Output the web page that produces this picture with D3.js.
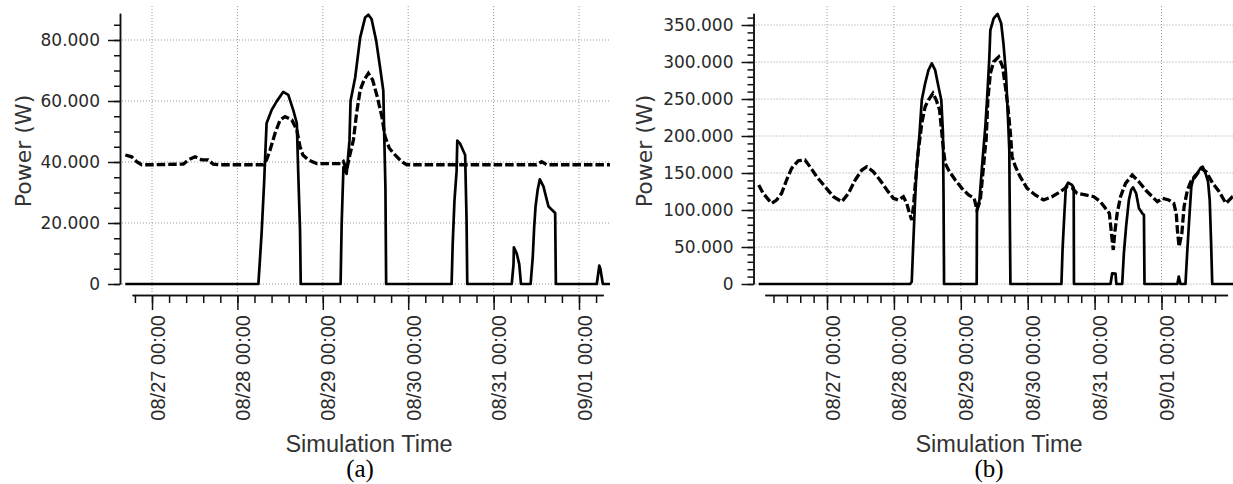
<!DOCTYPE html>
<html>
<head>
<meta charset="utf-8">
<script src="https://cdn.jsdelivr.net/npm/d3@7"></script>
<style>
  body { margin: 0; background: #fff; }
  svg { display: block; background: #fff; }
  .grid { stroke: #999; stroke-width: 1; stroke-dasharray: 1,2; }
  .axis { color: #111; }
  .axis path, .axis line { stroke-width: 1.5; }
  .yaxis text { font-family: "DejaVu Sans", sans-serif; font-size: 17px; fill: #2a2a2a; }
  .xaxis text { font-family: "Liberation Sans", Arial, sans-serif; font-size: 20px; fill: #2a2a2a; }
  .ylabel { font-family: "DejaVu Sans", sans-serif; font-size: 22px; fill: #333; }
  .xlabel { font-family: "Liberation Sans", Arial, sans-serif; font-size: 23.5px; fill: #333; }
  .caption { font-family: "Liberation Serif", "Times New Roman", serif; font-size: 25px; fill: #000; }
</style>
</head>
<body>
<svg id="chart" width="1233" height="484"></svg>
<script>
// times are hours after 08/27 00:00, values in W

// (a) solid
const aSolidT = [-7.5, 29.9, 30.8, 31.5, 32.2, 33.6, 35.0, 36.9, 38.3, 39.7, 40.7, 41.1, 41.6, 41.8,
  53.0, 53.3, 53.8, 54.7, 55.5, 55.8, 57.1, 58.5, 59.9, 60.8, 61.7, 63.0, 64.1, 65.0, 65.3, 65.6, 65.8,
  84.2, 84.5, 85.0, 85.6, 85.8, 86.6, 88.0, 88.4, 88.6,
  101.1, 101.6, 101.7, 102.5, 103.2, 103.7,
  106.4, 107.0, 107.4, 107.8, 108.4, 109.0, 110.0, 111.4, 112.3, 113.3, 113.5,
  125.0, 125.7, 126.0, 126.7, 128.7];
const aSolidV = [0, 0, 16.6, 33, 52.7, 57, 59.8, 63, 62, 57, 52.7, 36.3, 17.7, 0,
  0, 19.7, 38.3, 36.1, 47, 60, 67.7, 80.8, 87.4, 88.3, 86.9, 79.8, 71, 63.4, 47, 31.7, 0,
  0, 13, 27.3, 37, 47, 46, 42.3, 21, 0,
  0, 6.5, 12, 10, 6.5, 0,
  0, 8.7, 18.6, 25.5, 31, 34.3, 32, 25.5, 24.4, 23.3, 0,
  0, 6, 5, 0, 0];

// (a) dashed
const aDashT = [-7.5, -5.7, -4.3, -2.9, 0.4, 8.8, 10.2, 12.1, 14, 15.8, 17.2, 19.1, 31.3, 32.2, 33.2,
  34.6, 36, 37.4, 39.3, 40.7, 41.6, 42.4, 43.9, 46.3, 53.3, 53.8, 54.7, 55.6, 56.6, 57.5, 58.5, 59.6,
  60.8, 62, 63.3, 64.6, 65.5, 66.7, 68.3, 70.2, 71.6, 108.1, 109.5, 110.9, 128.7];
const aDashV = [42.3, 41.7, 40.1, 39.1, 39.1, 39.3, 40.7, 41.7, 40.7, 40.7, 39.3, 39.1, 39.1, 40.7, 44,
  49.5, 53.8, 54.9, 53.8, 50.5, 45, 42.3, 40.7, 39.5, 39.5, 40.1, 37.4, 42.3, 47.2, 56, 63.6, 66.9,
  69.1, 66.9, 61.4, 54.9, 48.3, 44.5, 42.3, 40.1, 39.1, 39.1, 40.1, 39.1, 39.1];

// (b) solid
const bSolidT = [-24.5, 29.8, 30.4, 31.0, 31.6, 32.2, 33.2, 34.0, 35.2, 36.4, 37.6, 38.8, 40.0, 41.0, 41.6, 41.8, 42.0,
  53.7, 53.8, 54.7, 55.8, 56.8, 57.4, 58.2, 58.6, 59.8, 61.2, 62.5, 63.3, 64.2, 64.9, 65.4, 65.5, 65.8,
  84.1, 84.5, 85.1, 85.7, 86.5, 87.9, 88.5, 88.6,
  101.7, 102.3, 103.5, 103.8,
  105.9, 106.5, 107.3, 108.3, 109.1, 109.8, 110.9, 111.9, 113.1, 113.7, 113.9,
  125.7, 126.2, 126.8,
  128.6, 129.2, 130.0, 130.7, 131.6, 132.8, 134.0, 134.8, 135.8, 136.7, 137.3, 137.8, 138.2, 146];
const bSolidV = [0, 0, 3, 59.5, 113.5, 158.5, 203.6, 248.6, 271, 289, 298, 289, 266.6, 248.6, 204, 122.5, 0,
  0, 100, 113.5, 167.6, 212.6, 248.6, 302.7, 343, 359, 364.9, 352, 325, 284.7, 226, 181, 127, 0,
  0, 46, 91, 131.5, 137, 133.8, 130, 0,
  0, 14.4, 14, 0,
  0, 41.4, 77.5, 113.5, 127, 130.6, 122.5, 102.3, 95.5, 93.2, 0,
  0, 10, 0,
  0, 41.4, 91, 131.5, 145, 149.6, 156.3, 158.5, 149.6, 138.2, 113.5, 55, 0, 0];

// (b) dashed
const bDashT = [-24.5, -22.9, -19.9, -18.1, -16.3, -14.5, -12.7, -10.3, -7.9, -6.1, -3.7, -0.7, 2.3, 5.3,
  7.7, 10.1, 12.5, 14.3, 16.6, 19.0, 21.5, 23.8, 25.6, 27.4, 28.6, 29.6, 30.4, 31.0, 31.9, 32.8, 34.0,
  35.2, 36.4, 38.0, 39.2, 40.4, 41.2, 41.8, 42.4, 43.6, 46.0, 48.4, 50.8, 52.8, 53.8, 55.0, 55.8, 56.8,
  57.1, 57.7, 58.6, 59.8, 61.6, 63.0, 64.0, 64.9, 65.8, 66.4, 67.6, 69.3, 71.8, 74.7, 77.7, 80.7, 83.7,
  86.1, 87.9, 89.7, 92.7, 95.7, 98.1, 99.9, 101.3, 101.8, 102.3, 102.7, 103.2, 104.1, 105.3, 107.1,
  109.5, 111.9, 114.3, 116.7, 118.5, 120.3, 122.6, 124.4, 125.3, 125.7, 126.3, 127.3, 128.1, 129.3,
  130.5, 132.1, 134.2, 136.0, 138.4, 140.7, 143.1, 145.5, 146];
const bDashV = [133.8, 122.5, 109, 113.5, 122.5, 140.5, 156.3, 166.6, 167.6, 158.5, 145, 131.5, 118, 111.2,
  122.5, 140.5, 154, 158.5, 151.8, 140.5, 127, 115.8, 113.5, 118, 109, 95.5, 86.5, 104.5, 145, 181, 217,
  239.6, 248.6, 257.7, 248.6, 235, 203.6, 181, 163, 154, 140.5, 129.3, 120.3, 115.8, 100, 113.5, 145, 185.5,
  194.6, 248.6, 284.7, 300.4, 307, 293.6, 266.6, 239.6, 203.6, 172, 158.5, 145, 129.3, 120.3, 113.5, 118, 124.7,
  131.5, 130, 122.5, 120.3, 118, 111.2, 102.3, 95.5, 77.5, 59.5, 46, 68.5, 95.5, 118, 136,
  147.3, 138.2, 127, 118, 111.2, 115.8, 113.5, 109, 95.5, 73, 50.4, 68.5, 104.5, 127,
  138.2, 145, 156.3, 151.8, 136, 124.7, 109, 118, 119];

// y tick labels
const yTicksA = [0, 20, 40, 60, 80];
const yTicksB = [0, 50, 100, 150, 200, 250, 300, 350];

const base = Date.UTC(2016, 7, 27);
const H = 3600 * 1000;
const DAY = 24 * H;
const toDate = h => new Date(base + h * H);

const svg = d3.select('#chart');
const fmtY = d => d === 0 ? '0' : d3.format('.3f')(d);
const fmtX = d3.utcFormat('%m/%d %H:%M');

constructPanel({
  xDay0: 152, xDay5: 579, yAxisX: 120, yTop: 88.8, pxPerUnit: 3.05,
  yTicks: yTicksA, yMinor: 5, gridRight: 610,
  axisFrom: -5.6, axisTo: 126.8, kFrom: -1, kTo: 26,
  solidT: aSolidT, solidV: aSolidV, dashT: aDashT, dashV: aDashV,
  yLabelX: 30.5, xLabelX: 369, captionX: 360, caption: '(a)'
});
constructPanel({
  xDay0: 827, xDay5: 1161.5, yAxisX: 753.5, yTop: 366, pxPerUnit: 0.74,
  yTicks: yTicksB, yMinor: 10, gridRight: 1233,
  axisFrom: -22.3, axisTo: 143.7, kFrom: -4, kTo: 29,
  solidT: bSolidT, solidV: bSolidV, dashT: bDashT, dashV: bDashV,
  yLabelX: 652, xLabelX: 999, captionX: 989, caption: '(b)'
});

function constructPanel(p) {
  const x = d3.scaleUtc()
    .domain([new Date(base), new Date(base + 5 * DAY)])
    .range([p.xDay0, p.xDay5]);
  const y = d3.scaleLinear()
    .domain([0, p.yTop])
    .range([284, 284 - p.yTop * p.pxPerUnit]);

  const g = svg.append('g');

  // grid
  g.append('g').selectAll('line').data(p.yTicks).enter().append('line')
    .attr('class', 'grid')
    .attr('x1', p.yAxisX + 2).attr('x2', p.gridRight)
    .attr('y1', d => y(d)).attr('y2', d => y(d));
  const days = d3.range(0, 6).map(i => new Date(base + i * DAY));
  g.append('g').selectAll('line').data(days).enter().append('line')
    .attr('class', 'grid')
    .attr('x1', d => x(d)).attr('x2', d => x(d))
    .attr('y1', 6).attr('y2', 294);

  // y axis
  const minorY = d3.range(0, p.yTop, p.yMinor);
  g.append('g').attr('class', 'axis yaxis')
    .attr('transform', 'translate(' + p.yAxisX + ',0)')
    .call(d3.axisLeft(y).tickValues(minorY).tickSize(6).tickSizeOuter(0).tickFormat(''));
  g.append('g').attr('class', 'axis yaxis')
    .attr('transform', 'translate(' + p.yAxisX + ',0)')
    .call(d3.axisLeft(y).tickValues(p.yTicks).tickSize(12).tickSizeOuter(0).tickPadding(8).tickFormat(fmtY));

  // x axis
  const xa = x.copy()
    .domain([toDate(p.axisFrom), toDate(p.axisTo)])
    .range([x(toDate(p.axisFrom)), x(toDate(p.axisTo))]);
  const minorX = d3.range(p.kFrom, p.kTo + 1).map(k => new Date(base + k * 0.2 * DAY));
  g.append('g').attr('class', 'axis xaxis')
    .attr('transform', 'translate(0,295)')
    .call(d3.axisBottom(xa).tickValues(minorX).tickSize(8).tickSizeOuter(0).tickFormat(''));
  g.append('g').attr('class', 'axis xaxis')
    .attr('transform', 'translate(0,295)')
    .call(d3.axisBottom(xa).tickValues(days).tickSize(15).tickSizeOuter(0).tickFormat(fmtX))
    .selectAll('text')
    .attr('transform', 'rotate(-90)')
    .attr('x', -20).attr('y', 12).attr('dy', null)
    .style('text-anchor', 'end');

  // labels
  g.append('text').attr('class', 'ylabel')
    .attr('transform', 'translate(' + p.yLabelX + ',151) rotate(-90)')
    .attr('text-anchor', 'middle')
    .text('Power (W)');
  g.append('text').attr('class', 'xlabel')
    .attr('x', p.xLabelX).attr('y', 452)
    .attr('text-anchor', 'middle')
    .text('Simulation Time');
  g.append('text').attr('class', 'caption')
    .attr('x', p.captionX).attr('y', 477)
    .attr('text-anchor', 'middle')
    .text(p.caption);

  // series
  const line = d3.line().x(d => x(d.t)).y(d => y(d.v));
  const solid = p.solidT.map((t, i) => ({ t: toDate(t), v: p.solidV[i] }));
  const dashed = p.dashT.map((t, i) => ({ t: toDate(t), v: p.dashV[i] }));

  g.append('path')
    .attr('d', line(solid))
    .attr('fill', 'none')
    .attr('stroke', '#000')
    .attr('stroke-width', 2.7)
    .attr('stroke-linejoin', 'round');
  g.append('path')
    .attr('d', line(dashed))
    .attr('fill', 'none')
    .attr('stroke', '#000')
    .attr('stroke-width', 3.3)
    .attr('stroke-dasharray', '8.5,3');
}
</script>
</body>
</html>
